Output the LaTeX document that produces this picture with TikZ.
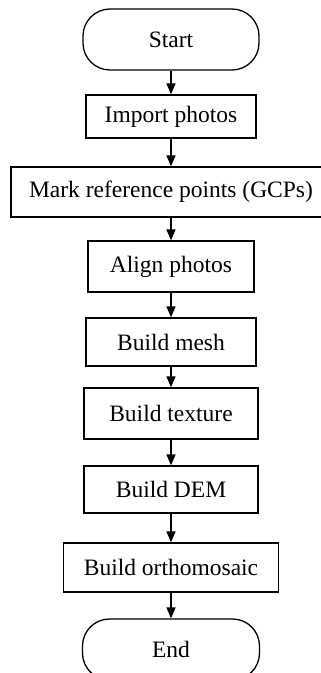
\documentclass[tikz,border=0pt]{standalone}
\usepackage{fontspec}
\setmainfont{Liberation Serif}
\usetikzlibrary{arrows.meta}

\begin{document}
\begin{tikzpicture}[x=1pt, y=1pt,
                    step box/.style={draw, line width=1.3pt, inner sep=0pt,
                                     font=\fontsize{23.5}{27}\selectfont},
                    terminal/.style={step box, rounded corners=27pt},
                    flow/.style={line width=1.3pt, -{Triangle[width=9pt, length=11pt]}}
                    ]
    \useasboundingbox (0,0) rectangle (321,-673);

    \def\cx{171}

    \node[terminal, minimum width=176pt, minimum height=61pt] (start) at (\cx,-39.5) {Start};
    \node[step box, minimum width=170pt, minimum height=43pt] (import) at (\cx,-116.5) {Import photos};
    \node[step box, minimum width=320pt, minimum height=50pt] (mark) at (\cx,-192) {Mark reference points (GCPs)};
    \node[step box, minimum width=166pt, minimum height=51pt] (align) at (\cx,-266.5) {Align photos};
    \node[step box, minimum width=170pt, minimum height=48pt] (mesh) at (\cx,-342) {Build mesh};
    \node[step box, minimum width=174pt, minimum height=51pt] (texture) at (\cx,-413.5) {Build texture};
    \node[step box, minimum width=174pt, minimum height=47pt] (dem) at (\cx,-489.5) {Build DEM};
    \node[step box, minimum width=215pt, minimum height=49pt] (ortho) at (\cx,-567.5) {Build orthomosaic};
    \node[terminal, minimum width=177pt, minimum height=61pt] (end) at (\cx,-649.5) {End};

    \draw[flow] (start) -- (import);
    \draw[flow] (import) -- (mark);
    \draw[flow] (mark) -- (align);
    \draw[flow] (align) -- (mesh);
    \draw[flow] (mesh) -- (texture);
    \draw[flow] (texture) -- (dem);
    \draw[flow] (dem) -- (ortho);
    \draw[flow] (ortho) -- (end);
\end{tikzpicture}
\end{document}
